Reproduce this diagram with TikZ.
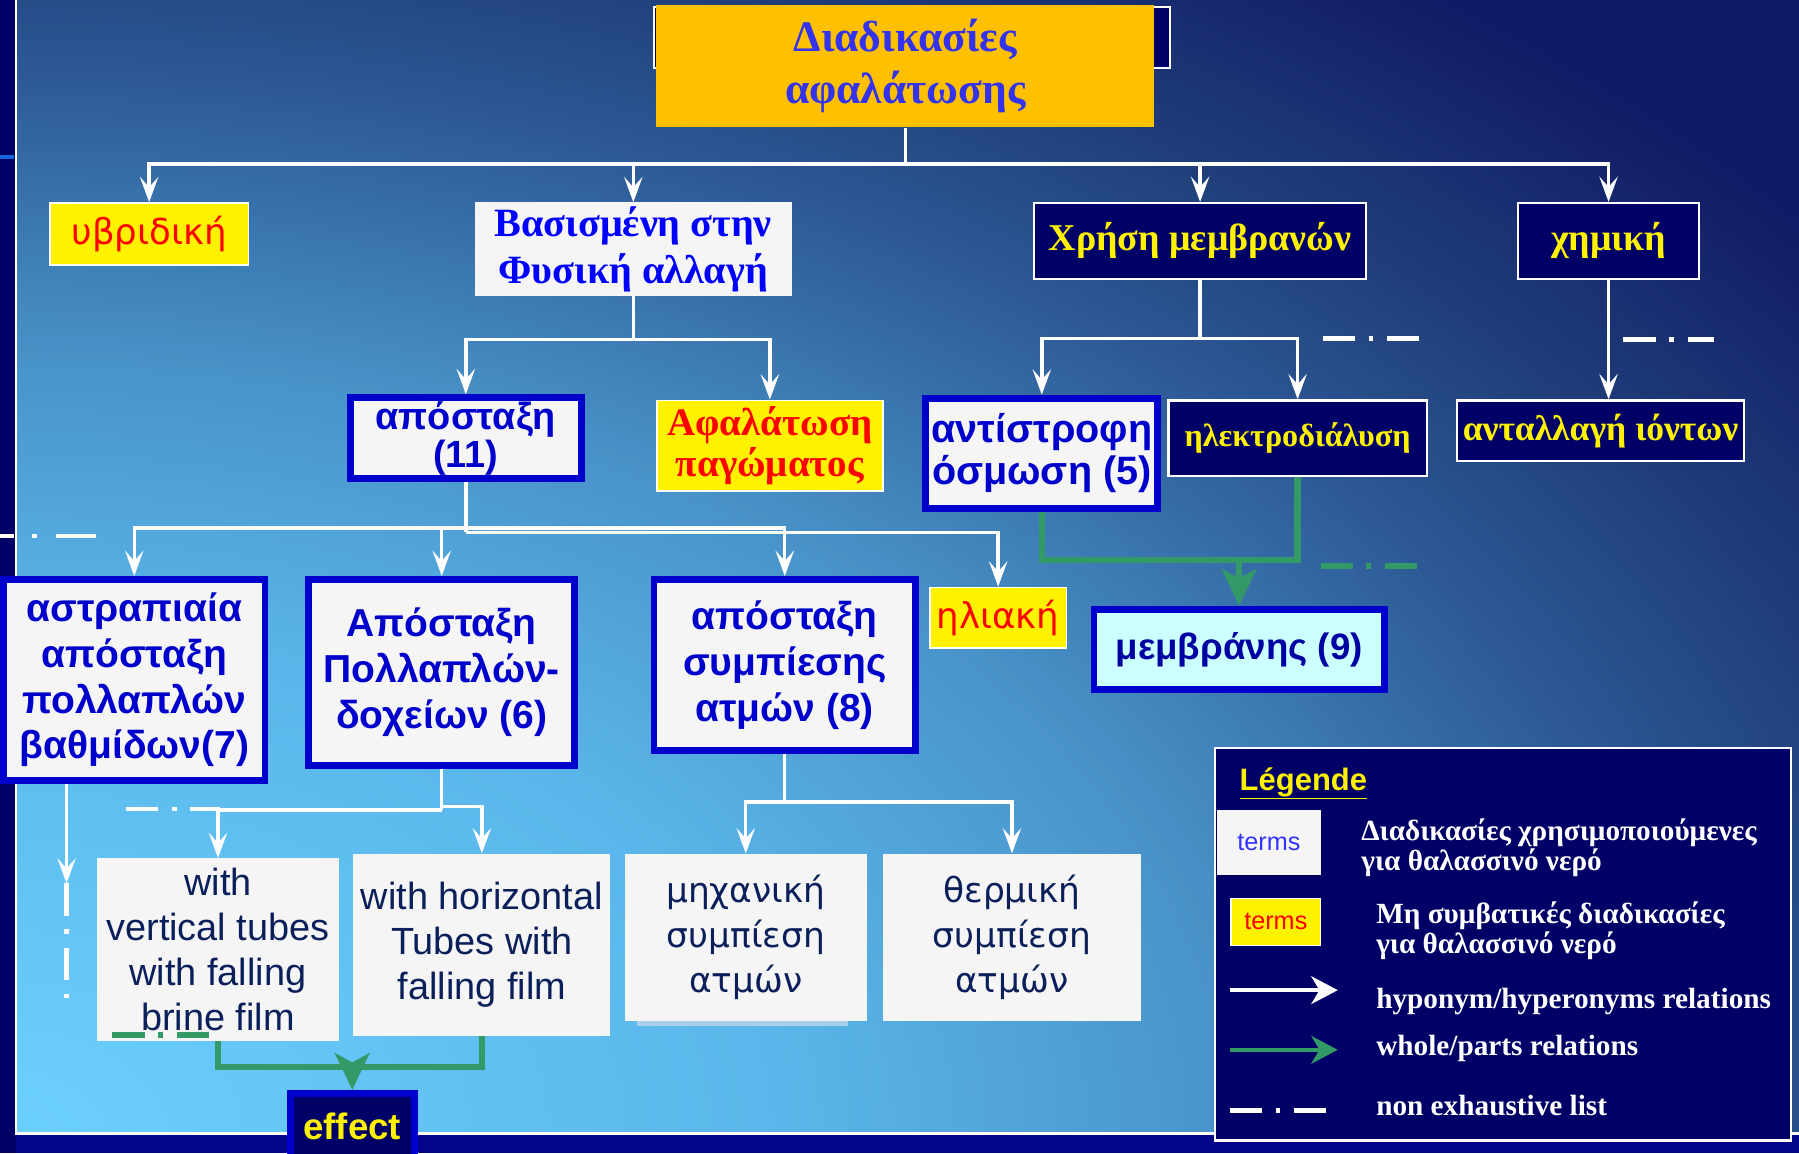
\documentclass[tikz,border=0pt]{standalone}
\usepackage{fontspec}
\setmainfont{Liberation Serif}
\setsansfont{Liberation Sans}
\newfontfamily\roundsans{DejaVu Sans}
\usetikzlibrary{arrows.meta}

\definecolor{slidenavy}{HTML}{000066}
\definecolor{bottomnavy}{HTML}{05058A}
\definecolor{accentblue}{HTML}{1464DC}
\definecolor{titleorange}{HTML}{FFC000}
\definecolor{titleblue}{HTML}{3333EE}
\definecolor{termblue}{HTML}{0000CC}
\definecolor{brightblue}{HTML}{0000FF}
\definecolor{partgreen}{HTML}{339966}
\definecolor{paper}{HTML}{F5F5F5}
\definecolor{inkblue}{HTML}{0B1F5A}
\definecolor{membranecyan}{HTML}{CCFFFF}
\definecolor{legendblue}{HTML}{3333FF}
\definecolor{shadowblue}{HTML}{A8D0EA}
\definecolor{glowa}{HTML}{6CD0FF}
\definecolor{glowb}{HTML}{5AB6EA}
\definecolor{glowc}{HTML}{4892C8}
\definecolor{glowd}{HTML}{2C5894}
\definecolor{glowe}{HTML}{203F7A}
\definecolor{glowf}{HTML}{111A66}
\pgfdeclareradialshading{slideglow}{\pgfpoint{0bp}{0bp}}{color(0bp)=(glowa); color(19bp)=(glowb); color(30bp)=(glowc); color(41bp)=(glowd); color(47bp)=(glowe); color(56bp)=(glowf); color(72bp)=(glowf)}

\begin{document}
\begin{tikzpicture}[x=1pt, y=-1pt,
title node/.style={rectangle, fill=titleorange, align=center, text=titleblue, font=\bfseries\fontsize{38}{45}\selectfont},
term node/.style={rectangle, fill=paper, align=center, text=brightblue, font=\bfseries\fontsize{35}{41}\selectfont},
key node/.style={rectangle, fill=paper, draw=termblue, line width=6pt, align=center, text=termblue, font=\sffamily\bfseries\fontsize{34}{40}\selectfont},
odd node/.style={rectangle, fill=yellow, draw=white, line width=1.5pt, align=center, text=red},
navy node/.style={rectangle, fill=slidenavy, draw=white, line width=2pt, align=center, text=yellow, font=\bfseries\fontsize{33}{40}\selectfont},
sub node/.style={rectangle, fill=paper, align=center, text=inkblue, font=\sffamily\fontsize{33}{39}\selectfont},
legend text/.style={text=white, align=left, font=\bfseries\fontsize{25.5}{26.5}\selectfont},
hyper/.style={draw=white, line width=3pt},
hyper arrow/.style={hyper, -{Stealth[length=22pt,width=16pt,inset=9pt]}},
part/.style={draw=partgreen, line width=5.5pt},
part arrow/.style={part, -{Stealth[length=32pt,width=30pt,inset=8pt]}},
etc/.style={draw=white, line width=4pt, dash pattern=on 28pt off 12pt on 4pt off 12pt}]
\useasboundingbox (0,0) rectangle (1568,1005);
% slide background
\fill[slidenavy] (0,0) rectangle (1568,1005);
\begin{scope}
\clip (14,0) rectangle (1568,987);
\begin{scope}[shift={(0,987)}]
\pgftransformxscale{36}\pgftransformyscale{22.5}
\pgflowlevelsynccm
\pgfuseshading{slideglow}
\end{scope}
\end{scope}
\fill[bottomnavy] (14,989) rectangle (1568,1005);
\draw[white, line width=2pt] (14,0) -- (14,988) -- (1568,988);
\draw[accentblue, line width=3pt] (0,137) -- (12,137);
\fill[shadowblue] (555,890) rectangle (739,894);

\begin{scope}
\node[navy node, minimum width=450pt, minimum height=53pt] (titleback) at (795,32.5) {};
\node[title node, minimum width=434pt, minimum height=107pt] (title) at (789,57.5) {Διαδικασίες\\αφαλάτωσης};

\node[odd node, font=\roundsans\fontsize{31}{36}\selectfont, minimum width=173pt, minimum height=54pt] (hybrid) at (130,204) {υβριδική};
\node[term node, minimum width=276pt, minimum height=80pt] (physical) at (552,217) {Βασισμένη στην\\Φυσική αλλαγή};
\node[navy node, minimum width=289pt, minimum height=66pt] (membranes) at (1046,210) {Χρήση μεμβρανών};
\node[navy node, minimum width=158pt, minimum height=66pt] (chemical) at (1402,210) {χημική};

\node[key node, font=\sffamily\bfseries\fontsize{33}{33}\selectfont, minimum width=201pt, minimum height=70pt] (distill) at (406,382) {απόσταξη\\(11)};
\node[odd node, font=\bfseries\fontsize{34}{36}\selectfont, minimum width=197pt, minimum height=79pt] (freezing) at (671,388.5) {Αφαλάτωση\\παγώματος};
\node[key node, font=\sffamily\bfseries\fontsize{34.5}{37}\selectfont, minimum width=202pt, minimum height=96pt] (osmosis) at (908,395) {αντίστροφη\\όσμωση (5)};
\node[navy node, font=\bfseries\fontsize{28}{32}\selectfont, minimum width=225pt, minimum height=66pt] (electro) at (1131,382) {ηλεκτροδιάλυση};
\node[navy node, font=\bfseries\fontsize{31}{36}\selectfont, minimum width=250pt, minimum height=53pt] (ionex) at (1395,375.5) {ανταλλαγή ιόντων};

\node[key node, minimum width=228pt, minimum height=175pt] (flash) at (117,592.5) {αστραπιαία\\απόσταξη\\πολλαπλών\\βαθμίδων(7)};
\node[key node, minimum width=232pt, minimum height=162pt] (multieffect) at (385,586) {Απόσταξη\\Πολλαπλών-\\δοχείων (6)};
\node[key node, minimum width=228pt, minimum height=149pt] (vapour) at (684,579.5) {απόσταξη\\συμπίεσης\\ατμών (8)};
\node[odd node, font=\roundsans\fontsize{31}{36}\selectfont, minimum width=119pt, minimum height=53pt] (solar) at (870,538.5) {ηλιακή};
\node[key node, fill=membranecyan, text=termblue!80!black, font=\sffamily\bfseries\fontsize{32}{40}\selectfont, minimum width=253pt, minimum height=70pt] (membrane) at (1080,566) {μεμβράνης (9)};

\node[sub node, minimum width=211pt, minimum height=159pt] (vtubes) at (190,827.5) {with\\vertical tubes\\with falling\\brine film};
\node[sub node, minimum width=224pt, minimum height=159pt] (htubes) at (420,823.5) {with horizontal\\Tubes with\\falling film};
\node[sub node, font=\roundsans\fontsize{30}{39}\selectfont, minimum width=211pt, minimum height=146pt] (mechanical) at (650,817) {μηχανική\\συμπίεση\\ατμών};
\node[sub node, font=\roundsans\fontsize{30}{39}\selectfont, minimum width=225pt, minimum height=146pt] (thermal) at (882,817) {θερμική\\συμπίεση\\ατμών};
\node[key node, fill=slidenavy, text=yellow, font=\sffamily\bfseries\fontsize{32}{40}\selectfont, text height=25pt, text depth=25pt, minimum width=108pt, minimum height=80pt] (effect) at (307,993) {effect};
\end{scope}

% legend
\begin{scope}
\node[rectangle, fill=slidenavy, draw=white, line width=2pt, minimum width=502pt, minimum height=342pt] (legend) at (1310,823) {};
\node[anchor=base west, text=yellow, font=\sffamily\bfseries\fontsize{27}{30}\selectfont] (legtitle) at (1077,689) {\underline{Légende}};
\node[rectangle, fill=paper, text=legendblue, font=\sffamily\fontsize{22}{26}\selectfont, minimum width=90pt, minimum height=57pt] (legterm) at (1106,734.5) {terms};
\node[odd node, font=\sffamily\fontsize{22}{26}\selectfont, minimum width=78pt, minimum height=41pt] (legodd) at (1112,803.5) {terms};
\node[legend text, anchor=west] (legtext1) at (1183,739) {Διαδικασίες χρησιμοποιούμενες\\για θαλασσινό νερό};
\node[legend text, anchor=west] (legtext2) at (1196,811) {Μη συμβατικές διαδικασίες\\για θαλασσινό νερό};
\node[legend text, anchor=base west] (legtext3) at (1196,878.6) {hyponym/hyperonyms relations};
\node[legend text, anchor=base west] (legtext4) at (1196,919.6) {whole/parts relations};
\node[legend text, anchor=base west] (legtext5) at (1196,972) {non exhaustive list};
\coordinate (la1) at (1072,863);
\coordinate (la2) at (1166,863);
\coordinate (lb1) at (1072,915);
\coordinate (lb2) at (1166,915);
\coordinate (lc1) at (1072,968);
\coordinate (lc2) at (1157,968);
\draw[white, line width=4pt, -{Stealth[length=23pt,width=24pt,inset=7pt]}] (la1) -- (la2);
\draw[partgreen, line width=4pt, -{Stealth[length=23pt,width=24pt,inset=7pt]}] (lb1) -- (lb2);
\draw[etc] (lc1) -- (lc2);
\end{scope}

% relations
\begin{scope}
\coordinate (b1) at (789,143);
\coordinate (b2) at (552,296);
\coordinate (b6) at (1046,295);
\coordinate (b3) at (406,460);
\coordinate (b3r) at (406,464);
\coordinate (b4) at (385,706);
\coordinate (b4r) at (385,703);
\coordinate (b5) at (684,699);
\coordinate (flashmore) at (58,770);
\coordinate (m1) at (1080,488);
\coordinate (e1) at (307,930);
\draw[hyper] (title) -- (b1);
\draw[hyper arrow] (b1) -| (hybrid);
\draw[hyper arrow] (b1) -| (physical);
\draw[hyper arrow] (b1) -| (membranes);
\draw[hyper arrow] (b1) -| (chemical);
\draw[hyper] (physical) -- (b2);
\draw[hyper arrow] (b2) -| (distill);
\draw[hyper arrow] (b2) -| (freezing);
\draw[hyper] (membranes) -- (b6);
\draw[hyper arrow] (b6) -| (osmosis);
\draw[hyper arrow] (b6) -| (electro);
\draw[hyper arrow] (chemical) -- (chemical |- ionex.north);
\draw[hyper] (distill) -- (b3r);
\draw[hyper arrow] (b3) -| (flash);
\draw[hyper arrow] (b3) -| (multieffect);
\draw[hyper arrow] (b3) -| (vapour);
\draw[hyper arrow] (b3r) -| (solar);
\draw[hyper arrow] (flash.south -| flashmore) -- (flashmore);
\draw[hyper] (multieffect) -- (b4);
\draw[hyper arrow] (b4) -| (vtubes);
\draw[hyper arrow] (b4r) -| (htubes);
\draw[hyper] (vapour) -- (b5);
\draw[hyper arrow] (b5) -| (mechanical);
\draw[hyper arrow] (b5) -| (thermal);
\draw[part] (osmosis) |- (m1);
\draw[part] (electro) |- (m1);
\draw[part arrow] (m1) -- (membrane);
\draw[part] (vtubes) |- (e1);
\draw[part] (htubes) |- (e1);
\draw[part arrow] (e1) -- (effect);
\end{scope}

% non exhaustive marks
\draw[etc] (1153,295) -- (1243,295);
\draw[etc] (1415,296) -- (1494,296);
\draw[etc, draw=partgreen, line width=5pt] (1151,493) -- (1239,493);
\draw[etc, dash pattern=on 35pt off 17pt on 4pt off 16pt] (84,467) -- (-16,467);
\draw[etc] (110,705) -- (192,705);
\draw[etc, draw=partgreen, line width=5pt] (98,902) -- (185,902);
\draw[etc] (flashmore) -- ++(0,100);
\end{tikzpicture}
\end{document}
